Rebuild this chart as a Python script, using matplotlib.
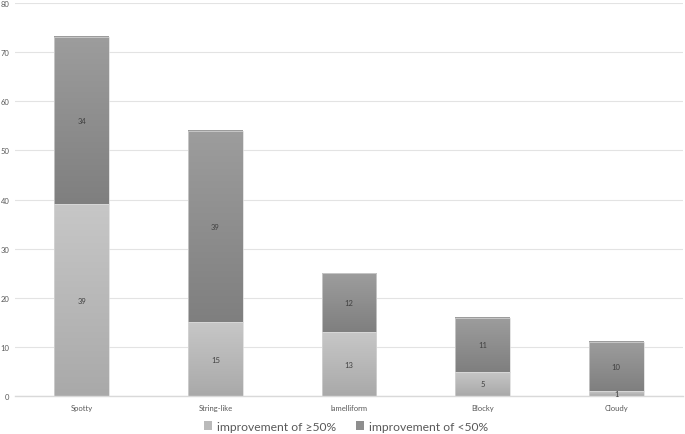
import numpy as np
import matplotlib
matplotlib.use("Agg")
import matplotlib.pyplot as plt
from matplotlib.colors import LinearSegmentedColormap
from matplotlib.patches import Patch

# Data
categories = ["Spotty", "String-like", "lamelliform", "Blocky", "Cloudy"]
improved = np.array([39, 15, 13, 5, 1])      # improvement of >=50%
not_improved = np.array([34, 39, 12, 11, 10])  # improvement of <50%
series_names = ["improvement of \u226550%", "improvement of <50%"]

plt.rcParams['font.family'] = ['Lato', 'DejaVu Sans']
txt = '#595959'

fig = plt.figure(figsize=(6.85, 4.35), dpi=100)
ax = fig.add_axes([0.022, 0.087, 0.975, 0.904])

x = np.arange(len(categories))
w = 0.41

b1 = ax.bar(x, improved, w, facecolor='none', edgecolor='#d8d8d8', linewidth=0.5, zorder=3)
b2 = ax.bar(x, not_improved, w, bottom=improved, facecolor='none', edgecolor='#d8d8d8', linewidth=0.5, zorder=3)

# gradient fills, lighter at top, darker at bottom
cm_light = LinearSegmentedColormap.from_list('l', ['#a9a9a9', '#c7c7c7'])
cm_dark = LinearSegmentedColormap.from_list('d', ['#7f7f7f', '#9d9d9d'])
grad = np.linspace(0, 1, 256).reshape(-1, 1)
for bars, cm in ((b1, cm_light), (b2, cm_dark)):
    for p in bars:
        x0, y0 = p.get_x(), p.get_y()
        ax.imshow(grad, cmap=cm, origin='lower', aspect='auto',
                  extent=[x0, x0 + p.get_width(), y0, y0 + p.get_height()], zorder=2)

for bars, vals in ((b1, improved), (b2, not_improved)):
    for p, v in zip(bars, vals):
        ax.text(p.get_x() + p.get_width() / 2, p.get_y() + p.get_height() / 2, str(v),
                ha='center', va='center', fontsize=5.5, color='#404040', zorder=4)

ax.set_xlim(-0.5, len(categories) - 0.5)
ax.set_ylim(0, 80)
ax.set_yticks(np.arange(0, 81, 10))
ax.set_xticks(x)
ax.set_xticklabels(categories)
ax.tick_params(axis='both', length=0, labelsize=5.5, colors=txt)
ax.tick_params(axis='y', pad=4)
ax.tick_params(axis='x', pad=6)
ax.grid(axis='y', color='#e3e3e3', linewidth=0.8, zorder=0)
ax.set_axisbelow(True)
for s in ['top', 'right', 'left']:
    ax.spines[s].set_visible(False)
ax.spines['bottom'].set_color('#d9d9d9')
ax.spines['bottom'].set_linewidth(1.0)

handles = [Patch(facecolor='#bababa', edgecolor='none'), Patch(facecolor='#8e8e8e', edgecolor='none')]
fig.legend(handles, series_names, loc='lower center', bbox_to_anchor=(0.505, -0.02), ncol=2,
           frameon=False, fontsize=8.7, handlelength=0.7, handleheight=0.7,
           handletextpad=0.4, columnspacing=1.6, labelcolor=txt)

fig.savefig('out.png', dpi=100)
